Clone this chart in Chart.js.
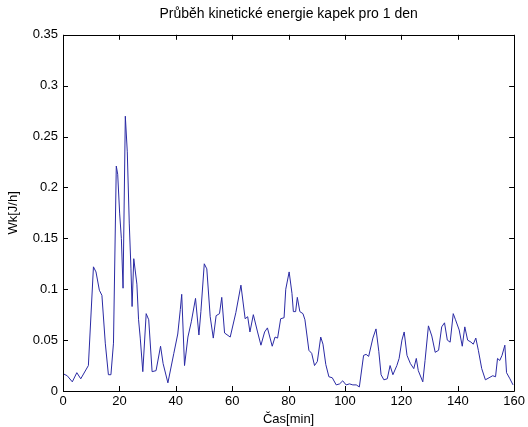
<!DOCTYPE html>
<html>
<head>
<meta charset="utf-8">
<script src="https://cdn.jsdelivr.net/npm/chart.js@4/dist/chart.umd.min.js"></script>
<style>
html,body{margin:0;padding:0;background:#fff;}
#wrap{width:528px;height:427px;}
</style>
</head>
<body>
<div id="wrap"><canvas id="c" width="528" height="427"></canvas></div>
<script>
// Time [min]
const times = [0,1.5,3.3,4.9,6.3,9.0,10.8,11.7,12.9,13.8,15.0,16.1,17.0,17.9,18.9,19.4,20.1,20.7,21.3,22.1,22.8,23.5,24.1,24.5,25.1,26.2,26.8,27.4,28.3,29.5,30.4,31.6,33.0,34.6,35.5,37.2,39.3,40.7,41.6,42.1,43.1,44.3,45.5,47.0,48.2,48.9,50.1,51.0,52.2,53.3,54.3,55.5,56.3,57.3,59.3,61.3,63.1,64.6,65.5,66.3,67.5,69.0,70.2,71.5,72.5,74.2,75.2,76.1,77.2,78.4,79.0,80.2,81.2,81.7,82.5,83.1,84.0,85.1,85.8,87.2,88.2,89.2,90.2,91.4,92.2,93.2,94.3,95.5,96.9,98.1,99.2,100.4,101.6,102.8,104.0,105.1,106.6,107.5,108.4,109.9,111.0,112.0,112.8,113.8,115.0,116.0,117.0,118.4,119.2,120.2,121.0,122.0,123.2,124.4,125.3,126.0,127.6,128.4,129.6,130.8,132.0,133.2,134.3,135.3,136.3,137.3,138.4,139.2,140.5,141.6,142.5,143.5,144.7,145.5,146.4,147.3,148.5,149.8,151.1,152.4,153.4,154.1,154.9,155.7,156.7,157.3,158.5,159.6];
// Kinetic energy Wk [J/h]
const energy = [0.017,0.015,0.009,0.018,0.012,0.025,0.122,0.117,0.099,0.094,0.047,0.016,0.016,0.047,0.221,0.213,0.174,0.150,0.101,0.270,0.235,0.165,0.120,0.083,0.130,0.105,0.070,0.052,0.019,0.076,0.070,0.019,0.020,0.044,0.027,0.008,0.037,0.056,0.080,0.095,0.025,0.053,0.068,0.091,0.055,0.078,0.125,0.120,0.073,0.052,0.074,0.076,0.092,0.057,0.053,0.077,0.104,0.071,0.073,0.058,0.075,0.058,0.045,0.058,0.062,0.044,0.053,0.052,0.071,0.072,0.100,0.117,0.096,0.078,0.078,0.092,0.078,0.076,0.070,0.040,0.037,0.025,0.029,0.053,0.046,0.026,0.014,0.013,0.006,0.007,0.010,0.006,0.007,0.006,0.006,0.004,0.035,0.036,0.034,0.052,0.061,0.039,0.016,0.011,0.012,0.025,0.016,0.025,0.032,0.050,0.058,0.035,0.027,0.022,0.032,0.020,0.009,0.030,0.064,0.054,0.038,0.040,0.063,0.067,0.050,0.048,0.076,0.070,0.060,0.044,0.063,0.050,0.048,0.046,0.052,0.040,0.022,0.011,0.013,0.015,0.014,0.032,0.030,0.035,0.045,0.018,0.012,0.006];
const xTicks = [0,20,40,60,80,100,120,140,160];
const yTicks = [0,0.05,0.1,0.15,0.2,0.25,0.3,0.35];
const xTickLabels = ['0','20','40','60','80','100','120','140','160'];
const yTickLabels = ['0','0.05','0.1','0.15','0.2','0.25','0.3','0.35'];

const FONT = 'Liberation Sans, Arial, Helvetica, sans-serif';

const points = times.map((t,i)=>({x:t,y:energy[i]}));

const boxPlugin = {
  id:'box',
  beforeDraw(chart){
    const ctx = chart.ctx;
    ctx.save();
    ctx.fillStyle = '#ffffff';
    ctx.fillRect(0,0,chart.width,chart.height);
    ctx.restore();
  },
  afterDraw(chart){
    const ctx = chart.ctx;
    const a = chart.chartArea;
    const xs = chart.scales.x, ys = chart.scales.y;
    const L = 5;
    ctx.save();
    ctx.strokeStyle = '#000';
    ctx.lineWidth = 1;
    ctx.beginPath();
    ctx.rect(Math.round(a.left)+0.5, Math.round(a.top)+0.5, Math.round(a.right-a.left), Math.round(a.bottom-a.top));
    ctx.stroke();
    ctx.beginPath();
    xTicks.forEach(v=>{
      const px = Math.round(xs.getPixelForValue(v))+0.5;
      ctx.moveTo(px, a.bottom); ctx.lineTo(px, a.bottom-L);
      ctx.moveTo(px, a.top); ctx.lineTo(px, a.top+L);
    });
    yTicks.forEach(v=>{
      const py = Math.round(ys.getPixelForValue(v))+0.5;
      ctx.moveTo(a.left, py); ctx.lineTo(a.left+L, py);
      ctx.moveTo(a.right, py); ctx.lineTo(a.right-L, py);
    });
    ctx.stroke();
    ctx.restore();
  }
};

new Chart(document.getElementById('c'), {
  type:'scatter',
  data:{datasets:[{
    data:points,
    showLine:true,
    borderColor:'#2a2aa4',
    borderWidth:1,
    pointRadius:0,
    tension:0,
    fill:false
  }]},
  options:{
    responsive:false,
    animation:false,
    events:[],
    layout:{padding:{left:0,right:12,top:0,bottom:0}},
    plugins:{
      legend:{display:false},
      tooltip:{enabled:false},
      title:{
        display:true,
        fullSize:false,
        text:'Průběh kinetické energie kapek pro 1 den',
        color:'#000',
        font:{family:FONT,size:14,weight:'normal'},
        padding:{top:6,bottom:12}
      }
    },
    scales:{
      x:{
        type:'linear',
        min:0,max:160,
        afterBuildTicks(s){ s.ticks = xTicks.map(v=>({value:v})); },
        afterFit(s){ s.height = 36; },
        grid:{display:false,drawTicks:false},
        border:{display:false},
        ticks:{
          color:'#000',
          font:{family:FONT,size:13},
          padding:3,
          maxRotation:0,
          autoSkip:false,
          callback:(v)=>{const i=xTicks.indexOf(v);return i>=0?xTickLabels[i]:'';}
        },
        title:{
          display:true,
          text:'Čas[min]',
          color:'#000',
          font:{family:FONT,size:13},
          padding:{top:0,bottom:0}
        }
      },
      y:{
        type:'linear',
        min:0,max:0.35,
        afterBuildTicks(s){ s.ticks = yTicks.map(v=>({value:v})); },
        afterFit(s){ s.width = 63; },
        grid:{display:false,drawTicks:false},
        border:{display:false},
        ticks:{
          color:'#000',
          font:{family:FONT,size:13},
          padding:5,
          autoSkip:false,
          callback:(v)=>{const i=yTicks.findIndex(t=>Math.abs(t-v)<1e-9);return i>=0?yTickLabels[i]:'';}
        },
        title:{
          display:true,
          text:'Wk[J/h]',
          color:'#000',
          font:{family:FONT,size:13},
          padding:{top:6,bottom:0}
        }
      }
    }
  },
  plugins:[boxPlugin]
});
</script>
</body>
</html>
